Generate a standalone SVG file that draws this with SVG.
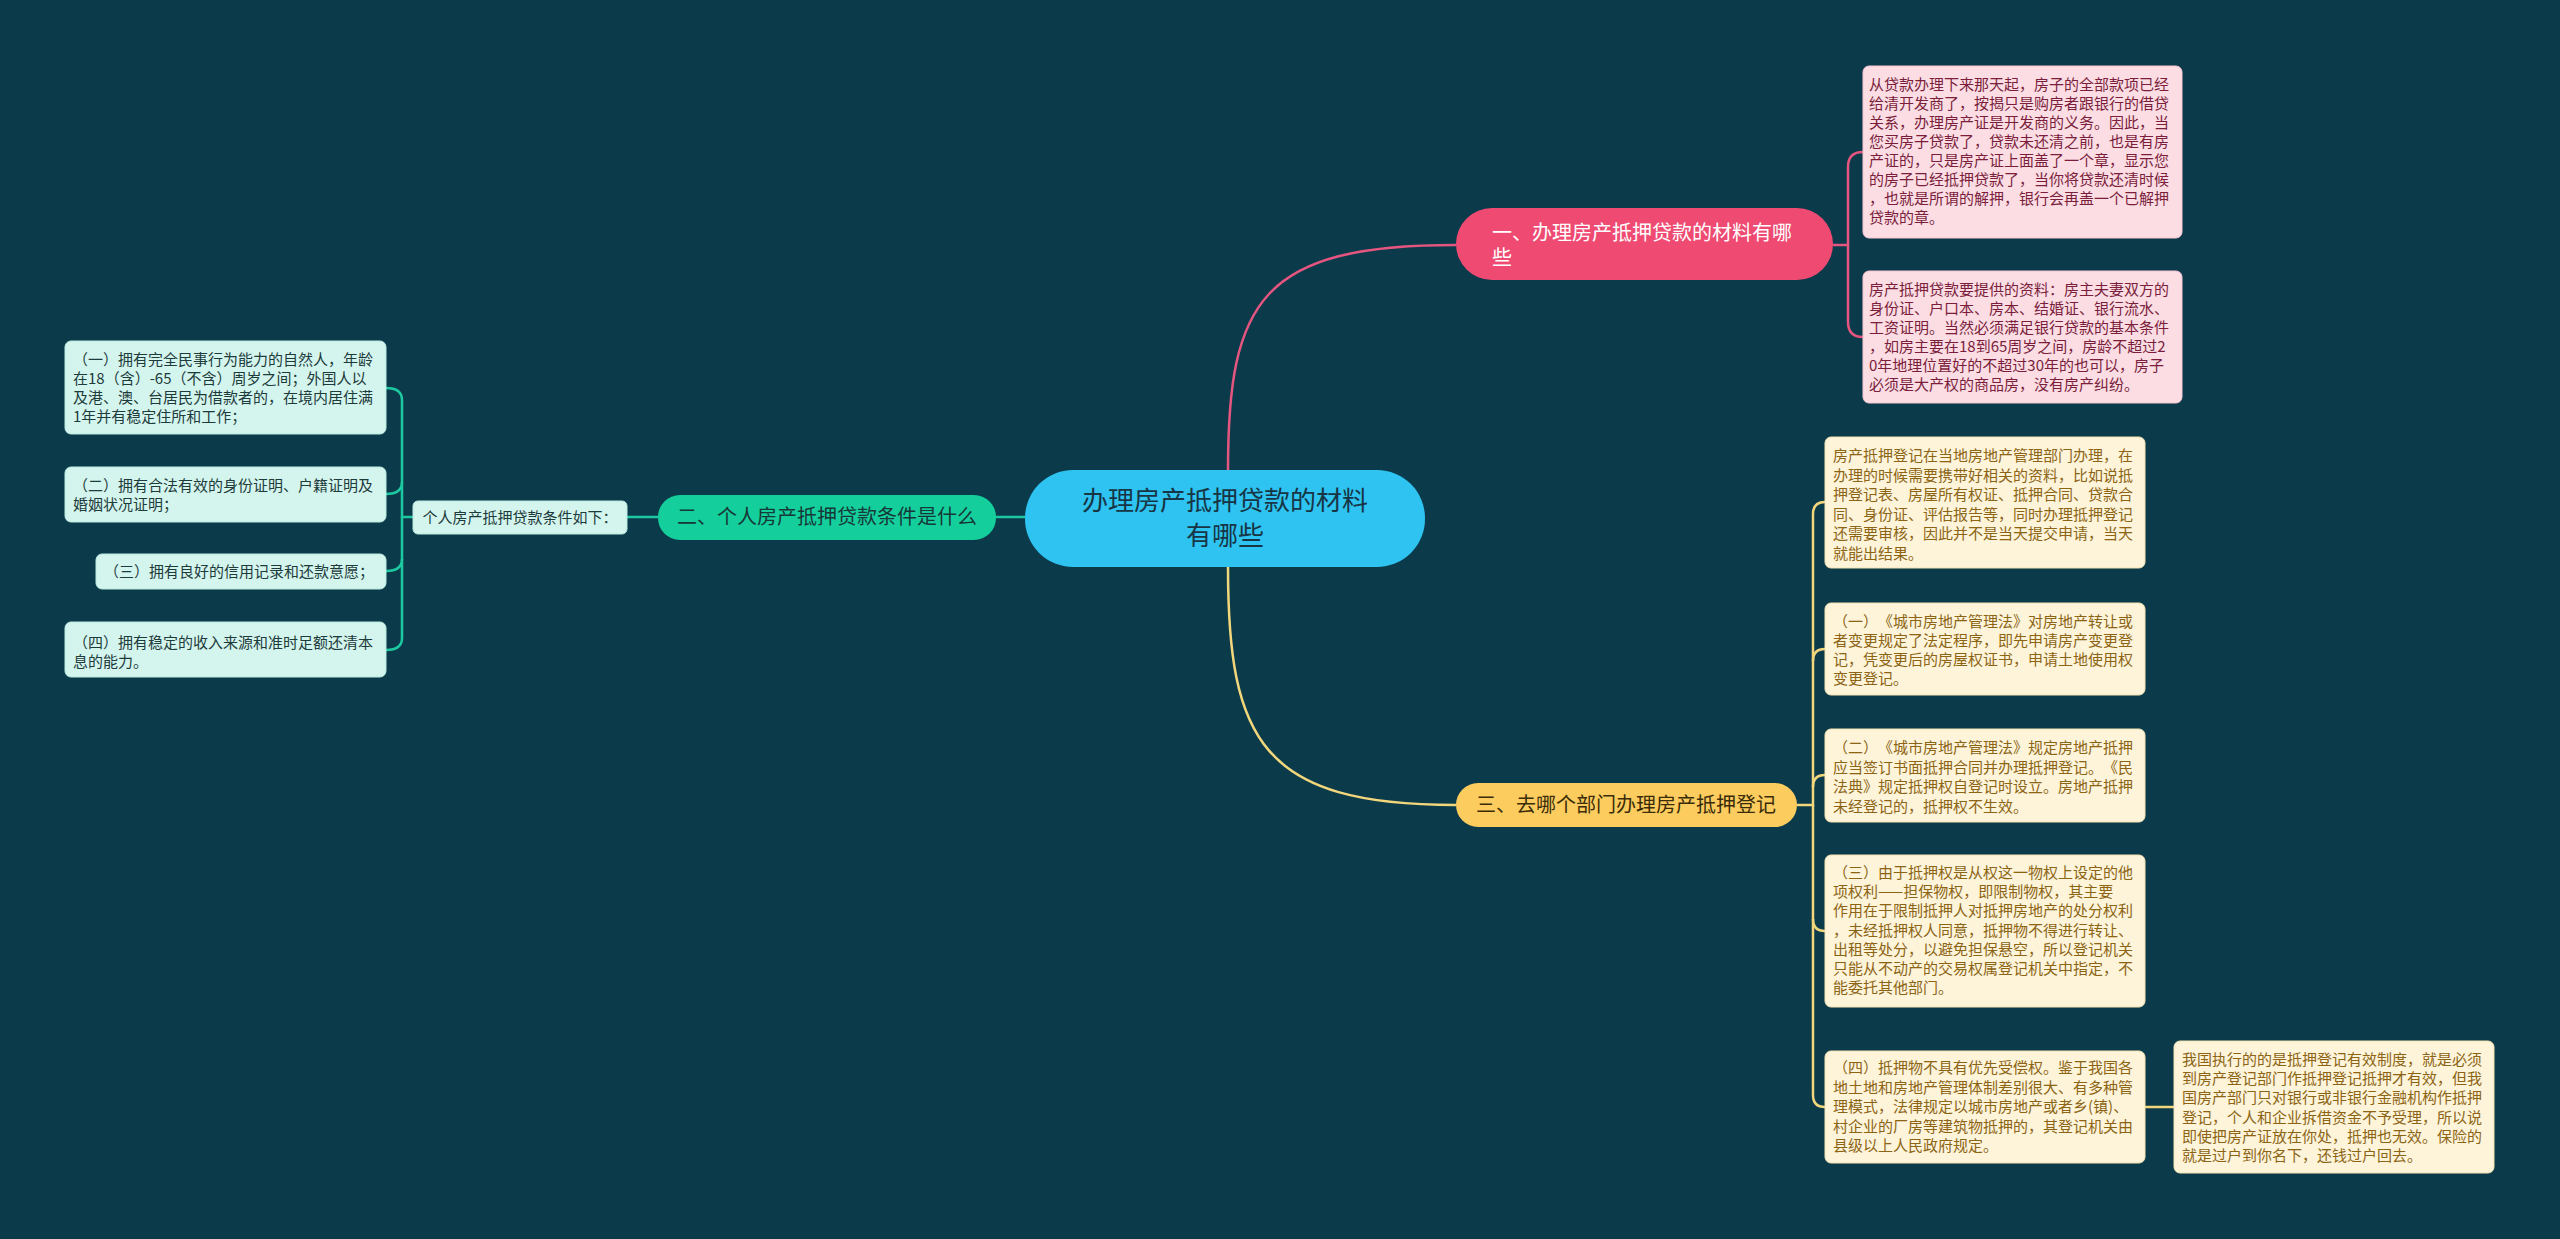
<svg xmlns="http://www.w3.org/2000/svg" width="2560" height="1239" viewBox="0 0 2560 1239">
<style>
text{font-family:"Noto Sans CJK SC","Noto Sans",sans-serif;text-spacing-trim:space-all;}
.pinkbox{fill:#FCDDE4;stroke:#F6C6D2;stroke-width:1}
.pinkt{fill:#7A1E3C;font-size:15px}
.ybox{fill:#FDF4DA;stroke:#F3E2B0;stroke-width:1}
.yt{fill:#8C6414;font-size:15px}
.gbox{fill:#D4F5EE;stroke:#B8EBDF;stroke-width:1}
.gt{fill:#1D3B3B;font-size:15px}
.conn{fill:none;stroke-width:2.5}
.cp{stroke:#E4557F}
.cy{stroke:#F2D67C}
.cg{stroke:#1CC9A0}
</style>
<rect x="0" y="0" width="2560" height="1239" fill="#0B3A4B"/>
<g id="connectors">
<path class="conn cp" d="M1228 470 C1228 300 1262 245 1456 245"/>
<path class="conn cy" d="M1228 567 C1228 740 1262 805 1456 805"/>
<path class="conn cg" d="M1025 517 H996"/>
<path class="conn cg" d="M658 517 H627"/>
<path class="conn cp" d="M1833 245 H1848 V167 Q1848 152 1863 152"/>
<path class="conn cp" d="M1848 245 V322 Q1848 337 1863 337"/>
<path class="conn cy" d="M1797 805 H1813 V514 Q1813 502 1825 502"/>
<path class="conn cy" d="M1813 661 Q1813 649 1825 649"/>
<path class="conn cy" d="M1813 787 Q1813 775 1825 775"/>
<path class="conn cy" d="M1813 805 V1095 Q1813 1107 1825 1107"/>
<path class="conn cy" d="M1813 919 Q1813 931 1825 931"/>
<path class="conn cy" d="M2145 1107 H2174"/>
<path class="conn cg" d="M413 517 H402 V400 Q402 388 386 388"/>
<path class="conn cg" d="M402 482 Q402 494 386 494"/>
<path class="conn cg" d="M402 517 V638 Q402 650 386 650"/>
<path class="conn cg" d="M402 559 Q402 571 386 571"/>
</g>
<g id="center">
<rect x="1025" y="470" width="400" height="97" rx="48" fill="#2EC3F0"/>
<text x="1225" y="510" font-size="26" fill="#173545" text-anchor="middle">办理房产抵押贷款的材料</text>
<text x="1225" y="545" font-size="26" fill="#173545" text-anchor="middle">有哪些</text>
</g>
<g id="n1">
<rect x="1456" y="208" width="377" height="72" rx="36" fill="#EE4A72"/>
<text x="1492" y="240" font-size="20" fill="#FFFFFF">一、办理房产抵押贷款的材料有哪</text>
<text x="1492" y="265" font-size="20" fill="#FFFFFF">些</text>
</g>
<g id="n1a">
<rect class="pinkbox" x="1863" y="66" width="319" height="172" rx="6"/>
<text class="pinkt" x="1869" y="90"><tspan x="1869">从贷款办理下来那天起，房子的全部款项已经</tspan><tspan x="1869" dy="19">给清开发商了，按揭只是购房者跟银行的借贷</tspan><tspan x="1869" dy="19">关系，办理房产证是开发商的义务。因此，当</tspan><tspan x="1869" dy="19">您买房子贷款了，贷款未还清之前，也是有房</tspan><tspan x="1869" dy="19">产证的，只是房产证上面盖了一个章，显示您</tspan><tspan x="1869" dy="19">的房子已经抵押贷款了，当你将贷款还清时候</tspan><tspan x="1869" dy="19">，也就是所谓的解押，银行会再盖一个已解押</tspan><tspan x="1869" dy="19">贷款的章。</tspan></text>
</g>
<g id="n1b">
<rect class="pinkbox" x="1863" y="271" width="319" height="132" rx="6"/>
<text class="pinkt" x="1869" y="295"><tspan x="1869">房产抵押贷款要提供的资料：房主夫妻双方的</tspan><tspan x="1869" dy="19">身份证、户口本、房本、结婚证、银行流水、</tspan><tspan x="1869" dy="19">工资证明。当然必须满足银行贷款的基本条件</tspan><tspan x="1869" dy="19">，如房主要在18到65周岁之间，房龄不超过2</tspan><tspan x="1869" dy="19">0年地理位置好的不超过30年的也可以，房子</tspan><tspan x="1869" dy="19">必须是大产权的商品房，没有房产纠纷。</tspan></text>
</g>
<g id="n2">
<rect x="658" y="495" width="338" height="45" rx="22" fill="#14CF9B"/>
<text x="827" y="524" font-size="20" fill="#173838" text-anchor="middle">二、个人房产抵押贷款条件是什么</text>
</g>
<g id="n2a">
<rect class="gbox" x="413" y="501" width="214" height="33" rx="5"/>
<text class="gt" x="520" y="523" text-anchor="middle">个人房产抵押贷款条件如下：</text>
</g>
<g id="n2a1">
<rect class="gbox" x="65" y="341" width="321" height="93" rx="6"/>
<text class="gt" x="73" y="365"><tspan x="73">（一）拥有完全民事行为能力的自然人，年龄</tspan><tspan x="73" dy="19">在18（含）-65（不含）周岁之间；外国人以</tspan><tspan x="73" dy="19">及港、澳、台居民为借款者的，在境内居住满</tspan><tspan x="73" dy="19">1年并有稳定住所和工作；</tspan></text>
</g>
<g id="n2a2">
<rect class="gbox" x="65" y="467" width="321" height="55" rx="6"/>
<text class="gt" x="73" y="491"><tspan x="73">（二）拥有合法有效的身份证明、户籍证明及</tspan><tspan x="73" dy="19">婚姻状况证明；</tspan></text>
</g>
<g id="n2a3">
<rect class="gbox" x="96" y="554" width="290" height="35" rx="6"/>
<text class="gt" x="104" y="577">（三）拥有良好的信用记录和还款意愿；</text>
</g>
<g id="n2a4">
<rect class="gbox" x="65" y="622" width="321" height="55" rx="6"/>
<text class="gt" x="73" y="648"><tspan x="73">（四）拥有稳定的收入来源和准时足额还清本</tspan><tspan x="73" dy="19">息的能力。</tspan></text>
</g>
<g id="n3">
<rect x="1456" y="783" width="341" height="44" rx="22" fill="#FDCC5E"/>
<text x="1626" y="812" font-size="20" fill="#3A2C08" text-anchor="middle">三、去哪个部门办理房产抵押登记</text>
</g>
<g id="n3a">
<rect class="ybox" x="1825" y="437" width="320" height="131" rx="6"/>
<text class="yt" x="1833" y="461"><tspan x="1833">房产抵押登记在当地房地产管理部门办理，在</tspan><tspan x="1833" dy="19.5">办理的时候需要携带好相关的资料，比如说抵</tspan><tspan x="1833" dy="19.5">押登记表、房屋所有权证、抵押合同、贷款合</tspan><tspan x="1833" dy="19.5">同、身份证、评估报告等，同时办理抵押登记</tspan><tspan x="1833" dy="19.5">还需要审核，因此并不是当天提交申请，当天</tspan><tspan x="1833" dy="19.5">就能出结果。</tspan></text>
</g>
<g id="n3b">
<rect class="ybox" x="1825" y="603" width="320" height="92" rx="6"/>
<text class="yt" x="1833" y="627"><tspan x="1833">（一）《城市房地产管理法》对房地产转让或</tspan><tspan x="1833" dy="19">者变更规定了法定程序，即先申请房产变更登</tspan><tspan x="1833" dy="19">记，凭变更后的房屋权证书，申请土地使用权</tspan><tspan x="1833" dy="19">变更登记。</tspan></text>
</g>
<g id="n3c">
<rect class="ybox" x="1825" y="729" width="320" height="93" rx="6"/>
<text class="yt" x="1833" y="753"><tspan x="1833">（二）《城市房地产管理法》规定房地产抵押</tspan><tspan x="1833" dy="19.5">应当签订书面抵押合同并办理抵押登记。《民</tspan><tspan x="1833" dy="19.5">法典》规定抵押权自登记时设立。房地产抵押</tspan><tspan x="1833" dy="19.5">未经登记的，抵押权不生效。</tspan></text>
</g>
<g id="n3d">
<rect class="ybox" x="1825" y="855" width="320" height="152" rx="6"/>
<text class="yt" x="1833" y="878"><tspan x="1833">（三）由于抵押权是从权这一物权上设定的他</tspan><tspan x="1833" dy="19.2">项权利——担保物权，即限制物权，其主要</tspan><tspan x="1833" dy="19.2">作用在于限制抵押人对抵押房地产的处分权利</tspan><tspan x="1833" dy="19.2">，未经抵押权人同意，抵押物不得进行转让、</tspan><tspan x="1833" dy="19.2">出租等处分，以避免担保悬空，所以登记机关</tspan><tspan x="1833" dy="19.2">只能从不动产的交易权属登记机关中指定，不</tspan><tspan x="1833" dy="19.2">能委托其他部门。</tspan></text>
</g>
<g id="n3e">
<rect class="ybox" x="1825" y="1051" width="320" height="112" rx="6"/>
<text class="yt" x="1833" y="1073"><tspan x="1833">（四）抵押物不具有优先受偿权。鉴于我国各</tspan><tspan x="1833" dy="19.5">地土地和房地产管理体制差别很大、有多种管</tspan><tspan x="1833" dy="19.5">理模式，法律规定以城市房地产或者乡(镇)、</tspan><tspan x="1833" dy="19.5">村企业的厂房等建筑物抵押的，其登记机关由</tspan><tspan x="1833" dy="19.5">县级以上人民政府规定。</tspan></text>
</g>
<g id="n3e1">
<rect class="ybox" x="2174" y="1041" width="320" height="132" rx="6"/>
<text class="yt" x="2182" y="1065"><tspan x="2182">我国执行的的是抵押登记有效制度，就是必须</tspan><tspan x="2182" dy="19.2">到房产登记部门作抵押登记抵押才有效，但我</tspan><tspan x="2182" dy="19.2">国房产部门只对银行或非银行金融机构作抵押</tspan><tspan x="2182" dy="19.2">登记，个人和企业拆借资金不予受理，所以说</tspan><tspan x="2182" dy="19.2">即使把房产证放在你处，抵押也无效。保险的</tspan><tspan x="2182" dy="19.2">就是过户到你名下，还钱过户回去。</tspan></text>
</g>
</svg>
